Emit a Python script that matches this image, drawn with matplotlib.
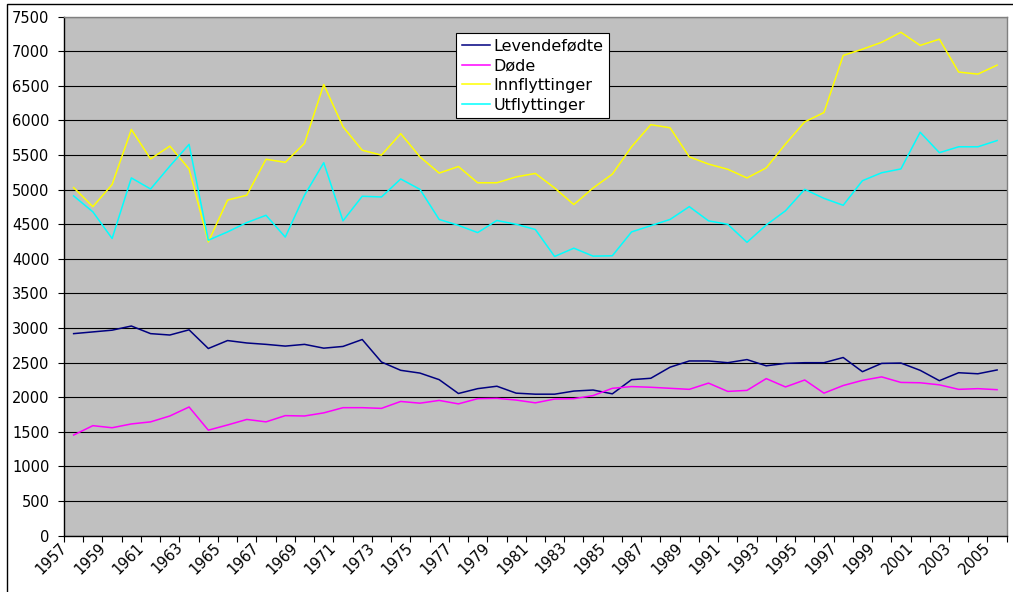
import matplotlib.pyplot as plt
import matplotlib.patches as patches
from matplotlib.ticker import FixedLocator, MultipleLocator

# Data
years = list(range(1957, 2006))

levendefodte = [2920, 2945, 2970, 3030, 2920, 2900, 2975, 2705, 2820, 2785,
                2765, 2740, 2765, 2710, 2735, 2835, 2510, 2390, 2350, 2255,
                2055, 2125, 2160, 2060, 2045, 2045, 2090, 2105, 2050, 2255,
                2275, 2435, 2525, 2525, 2500, 2545, 2455, 2490, 2500, 2500,
                2575, 2370, 2490, 2495, 2390, 2240, 2355, 2340, 2395]

dode = [1455, 1590, 1560, 1615, 1645, 1730, 1860, 1525, 1600, 1680,
        1645, 1735, 1730, 1775, 1850, 1850, 1840, 1940, 1915, 1955,
        1905, 1980, 1985, 1960, 1920, 1975, 1980, 2025, 2130, 2155,
        2145, 2130, 2115, 2205, 2085, 2100, 2270, 2150, 2250, 2060,
        2170, 2245, 2295, 2215, 2210, 2180, 2115, 2125, 2110]

innflyttinger = [5030, 4755, 5075, 5870, 5445, 5630, 5300, 4245, 4850, 4920,
                 5440, 5395, 5670, 6520, 5910, 5570, 5500, 5810, 5475, 5240,
                 5335, 5100, 5100, 5185, 5235, 5025, 4785, 5025, 5225, 5620,
                 5940, 5895, 5475, 5370, 5295, 5170, 5315, 5660, 5980, 6115,
                 6940, 7030, 7130, 7275, 7085, 7175, 6700, 6670, 6800]

utflyttinger = [4910, 4680, 4295, 5170, 5010, 5340, 5655, 4270, 4390, 4525,
                4630, 4315, 4920, 5390, 4550, 4905, 4895, 5155, 5005, 4570,
                4485, 4380, 4555, 4500, 4425, 4035, 4155, 4040, 4045, 4390,
                4480, 4570, 4755, 4550, 4500, 4240, 4490, 4695, 5005, 4875,
                4775, 5130, 5245, 5300, 5830, 5535, 5620, 5620, 5710]

label_years = years[::2]

plt.rcParams['font.family'] = ['DejaVu Sans']

fig = plt.figure(figsize=(10.13, 5.92), dpi=100)
ax = fig.add_axes([0.0632, 0.0951, 0.9306, 0.8767])

# outer chart border (left and top visible)
fig.add_artist(patches.Rectangle((0.0066, -0.1), 1.2, 1.0932, transform=fig.transFigure,
                                 fill=False, edgecolor='black', linewidth=1.0))

ax.set_facecolor('#C0C0C0')

ax.plot(years, levendefodte, color='#000080', lw=1.1, label='Levendefødte')
ax.plot(years, dode, color='#FF00FF', lw=1.1, label='Døde')
ax.plot(years, innflyttinger, color='#FFFF00', lw=1.1, label='Innflyttinger')
ax.plot(years, utflyttinger, color='#00FFFF', lw=1.1, label='Utflyttinger')

ax.set_xlim(years[0] - 0.5, years[-1] + 0.5)
ax.set_ylim(0, 7500)
ax.yaxis.set_major_locator(MultipleLocator(500))
ax.grid(axis='y', color='black', linewidth=0.8)
ax.set_axisbelow(True)

# boundary tick marks between categories
ax.xaxis.set_minor_locator(FixedLocator([y - 0.5 for y in years] + [years[-1] + 0.5]))
ax.tick_params(axis='x', which='minor', direction='out', length=4, width=0.8, color='black')
ax.set_xticks([y - 0.2 for y in label_years])
ax.set_xticklabels([str(y) for y in label_years], rotation=45, ha='right', va='top')
ax.tick_params(axis='x', which='major', length=0, pad=3, labelsize=10.5)
ax.tick_params(axis='y', direction='out', length=4.5, width=0.8, pad=6, labelsize=10.5)

ax.spines['left'].set_color('black')
ax.spines['bottom'].set_color('black')
ax.spines['top'].set_color('#808080')
ax.spines['right'].set_color('#808080')
for s in ax.spines.values():
    s.set_linewidth(1.0)

leg = ax.legend(loc='upper left', bbox_to_anchor=(0.4158, 0.969), fontsize=11.5,
                frameon=True, fancybox=False, framealpha=1, edgecolor='black',
                handlelength=1.75, handletextpad=0.25, labelspacing=0.3,
                borderpad=0.35, borderaxespad=0)
leg.get_frame().set_linewidth(0.8)

plt.savefig('out.png', dpi=100)
